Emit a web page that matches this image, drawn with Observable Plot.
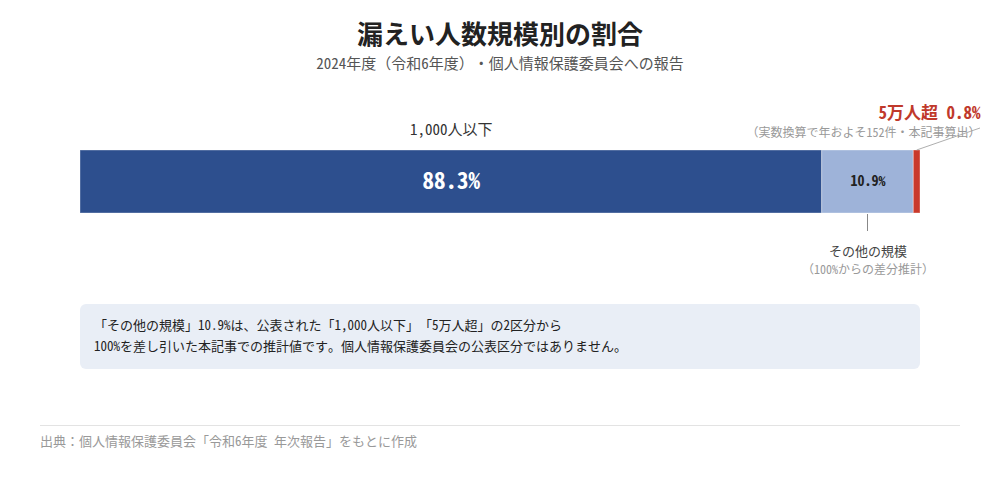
<!DOCTYPE html>
<html><head><meta charset="utf-8">
<script src="https://cdn.jsdelivr.net/npm/d3@7"></script>
<script src="https://cdn.jsdelivr.net/npm/@observablehq/plot@0.6"></script>
<style>
  html,body{margin:0;padding:0;background:#fff;}
  body{width:1000px;height:480px;position:relative;overflow:hidden;
    font-family:"Noto Sans Mono CJK JP","Noto Sans CJK JP",monospace;
    text-spacing-trim:space-all;}
  svg, svg text, svg tspan{text-spacing-trim:space-all;}
  .hw{font-feature-settings:"hwid" 1;}
  #title{position:absolute;top:15px;left:0;width:1000px;text-align:center;font-size:26px;font-weight:700;color:#222;line-height:36px;}
  #subtitle{position:absolute;top:52px;left:0;width:1000px;text-align:center;font-size:15px;color:#555;line-height:22px;}
  #chart{position:absolute;top:80px;left:0;}
  #note{position:absolute;left:80px;top:304px;width:840px;height:65px;background:#e9eef6;border-radius:6px;
    box-sizing:border-box;padding:10px 0 0 14px;font-size:13px;line-height:21px;color:#222;}
  #rule{position:absolute;left:40px;top:425px;width:920px;height:1px;background:#e3e3e3;}
  #source{position:absolute;left:40px;top:431px;font-size:13px;line-height:20px;color:#999;}
</style>
</head><body>
<div id="title">漏えい人数規模別の割合</div>
<div id="subtitle">2024年度（令和6年度）・個人情報保護委員会への報告</div>
<div id="chart"></div>
<div id="note">「その他の規模」10.9%は、公表された「1,000人以下」「5万人超」の2区分から<br>100%を差し引いた本記事での推計値です。個人情報保護委員会の公表区分ではありません。</div>
<div id="rule"></div>
<div id="source">出典：個人情報保護委員会「令和6年度 年次報告」をもとに作成</div>
<script>
const categories = ["1,000人以下", "その他の規模", "5万人超"];
const shares = [88.3, 10.9, 0.8];
const colors = ["#2d4f8e", "#9eb3d9", "#c9392b"];
const valueLabels = ["88.3%", "10.9%", "0.8%"];
const otherSub = "（100%からの差分推計）";
const bigSub = "（実数換算で年およそ152件・本記事算出）";

const data = categories.map((c, i) => ({cat: c, v: shares[i], color: colors[i], label: valueLabels[i]}));
const FONT = '"Noto Sans Mono CJK JP","Noto Sans CJK JP",monospace';

function leaders(index, scales, values, dims) {
  const g = d3.create("svg:g");
  const starts = d3.cumsum([0, ...shares]);
  const mid = i => scales.x(starts[i] + shares[i] / 2);
  const top = dims.marginTop, bottom = dims.height - dims.marginBottom;
  g.append("line").attr("x1", mid(1)).attr("x2", mid(1))
    .attr("y1", bottom + 1).attr("y2", bottom + 18)
    .attr("stroke", "#888").attr("stroke-width", 1);
  g.append("line").attr("x1", mid(2)).attr("x2", scales.x(100) + 60)
    .attr("y1", top).attr("y2", top - 22)
    .attr("stroke", "#999").attr("stroke-width", 0.8);
  return g.node();
}

const only = name => d => d.cat === name;
const chart = Plot.plot({
  width: 1000,
  height: 220,
  marginLeft: 80,
  marginRight: 80,
  marginTop: 70,
  marginBottom: 87,
  x: {domain: [0, 100], axis: null},
  y: {domain: [""], axis: null, padding: 0},
  style: {fontFamily: FONT, background: "transparent"},
  marks: [
    Plot.barX(data, Plot.stackX({x: "v", y: () => "", fill: d => d.color, stroke: "#ffffff", strokeOpacity: 0.35, strokeWidth: 1})),
    Plot.text(data, Plot.stackX({x: "v", y: () => "", text: d => only(categories[0])(d) ? d.label : null,
      fill: "#fff", fontSize: 23, fontWeight: 700})),
    Plot.text(data, Plot.stackX({x: "v", y: () => "", text: d => only(categories[1])(d) ? d.label : null,
      fill: "#222", fontSize: 14, fontWeight: 700})),
    Plot.text(data, Plot.stackX({x: "v", y: () => "", text: d => only(categories[0])(d) ? d.cat : null,
      fill: "#333", fontSize: 15, dy: -51.5})),
    Plot.text(data, Plot.stackX({x: "v", y: () => "", text: d => only(categories[1])(d) ? d.cat : null,
      fill: "#444", fontSize: 13, dy: 69.5})),
    Plot.text(data, Plot.stackX({x: "v", y: () => "", text: d => only(categories[1])(d) ? otherSub : null,
      fill: "#999", fontSize: 12, dy: 88.5})),
    Plot.text(data.filter(only(categories[2])), {x: () => 100, y: () => "", text: d => `${d.cat} ${d.label}`,
      fill: "#c0392b", fontSize: 17, fontWeight: 700, textAnchor: "end", dx: 60, dy: -68.5}),
    Plot.text(data.filter(only(categories[2])), {x: () => 100, y: () => "", text: () => bigSub,
      fill: "#999", fontSize: 12, textAnchor: "end", dx: 60, dy: -48.5}),
    leaders
  ]
});
document.getElementById("chart").appendChild(chart);

// give ASCII runs half-width (monospaced) forms, leaving CJK punctuation full width
function halfLatin(root) {
  const walker = document.createTreeWalker(root, NodeFilter.SHOW_TEXT);
  const nodes = [];
  while (walker.nextNode()) nodes.push(walker.currentNode);
  for (const node of nodes) {
    const parts = node.nodeValue.split(/([\x21-\x7E][\x20-\x7E]*[\x21-\x7E]|[\x21-\x7E])/);
    if (parts.length < 2) continue;
    const inSvg = node.parentNode instanceof SVGElement;
    const frag = document.createDocumentFragment();
    parts.forEach((p, i) => {
      if (!p) return;
      if (i % 2 === 1) {
        const el = inSvg ? document.createElementNS("http://www.w3.org/2000/svg", "tspan") : document.createElement("span");
        el.setAttribute("class", "hw");
        el.style.fontFeatureSettings = '"hwid" 1';
        el.textContent = p;
        frag.appendChild(el);
      } else frag.appendChild(document.createTextNode(p));
    });
    node.parentNode.replaceChild(frag, node);
  }
}
halfLatin(document.body.querySelector("#subtitle"));
halfLatin(document.body.querySelector("#note"));
halfLatin(document.body.querySelector("#source"));
chart.querySelectorAll("text").forEach(halfLatin);
</script>
</body></html>
